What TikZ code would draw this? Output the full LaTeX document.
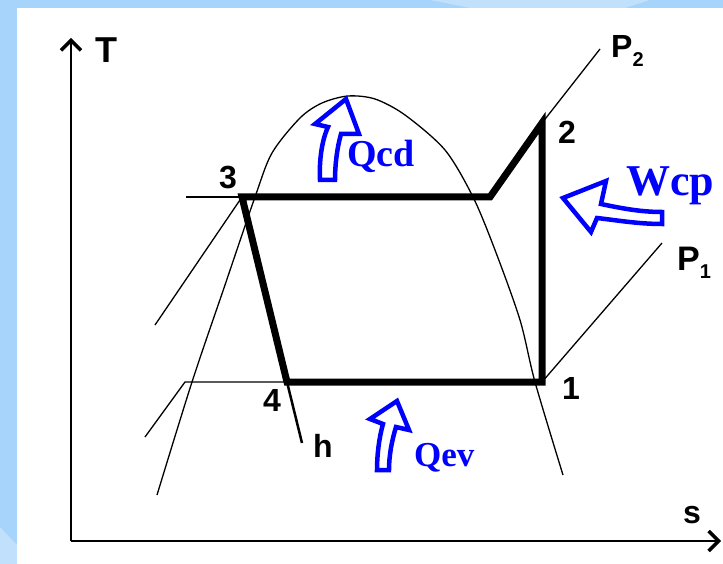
\documentclass[tikz,border=0pt]{standalone}
\usepackage{fontspec}
\setmainfont{Liberation Serif}
\setsansfont{Liberation Sans}
\usetikzlibrary{arrows.meta}
\definecolor{bgblue}{RGB}{166,212,250}
\definecolor{bglight}{RGB}{192,224,252}
\definecolor{qblue}{RGB}{0,0,255}
\begin{document}
\begin{tikzpicture}[x=1pt,y=-1pt,
  isoline/.style={line width=1.3pt},
  isothick/.style={line width=2.5pt},
  cyc/.style={line width=7pt, line join=miter},
  axisline/.style={line width=1.6pt},
  lbl/.style={font=\sffamily\bfseries\fontsize{32}{32}\selectfont, inner sep=0pt},
  qlbl/.style={text=qblue, inner sep=0pt, anchor=base west},
  hollow/.style={draw=qblue, fill=white, line width=4.5pt, line join=miter, miter limit=4},
]
% background
\fill[bgblue] (0,0) rectangle (723,564);
\useasboundingbox (0,0) rectangle (723,564);
\fill[bglight] (430,0) -- (650,0) -- (625,8) -- (470,8) -- cycle;
\fill[bglight] (0,527) -- (17,545) -- (17,564) -- (0,564) -- cycle;
\fill[white] (17,8) rectangle (723,564);

% axes
\coordinate (O) at (71,541);
\coordinate (Ttop) at (71,38);
\coordinate (Sright) at (721,541);
\draw[axisline, -{Straight Barb[length=10pt,width=20pt,line width=3.5pt]}] (O) -- (Ttop);
\draw[axisline, -{Straight Barb[length=10pt,width=20pt,line width=3.5pt]}] (O) -- (Sright);

% saturation dome
\draw[isoline] plot[smooth] coordinates {(157,495) (192,382) (225,285) (255,197) (272,153) (300,118) (322,103) (348,96) (375,99) (405,115) (445,150) (473,197) (495,250) (520,320) (535,382) (563,475)};

% cycle points
\coordinate (p1) at (542,382);
\coordinate (p2) at (542,123);
\coordinate (pk) at (490,197);
\coordinate (p3) at (242,197);
\coordinate (p4) at (287,382);
\coordinate (P2end) at (600,49);
\coordinate (P1end) at (662,243);
\coordinate (isoL) at (186,197);
\coordinate (liq2) at (155,325);
\coordinate (isoL1) at (185,382);
\coordinate (liq1) at (145,437);
\coordinate (hend) at (302,443);

% isobars and isolines
\draw[isoline] (p2) -- (P2end);
\draw[isothick] (p3) -- (isoL);
\draw[isoline] (p3) -- (liq2);
\draw[isoline] (p1) -- (P1end);
\draw[isoline] (p4) -- (isoL1) -- (liq1);
\draw[isothick] (p4) -- (hend);

% cycle
\draw[cyc] (p1) -- (p2) -- (pk) -- (p3) -- (p4) -- cycle;

% labels
\node[lbl, font=\sffamily\bfseries\fontsize{36}{36}\selectfont] (tT) at (106,50) {T};
\node[lbl] (ts) at (692,515) {s};
\node[lbl] (t1) at (571,388) {1};
\node[lbl] (t2) at (567,132) {2};
\node[lbl] (t3) at (228,178) {3};
\node[lbl] (t4) at (272,400) {4};
\node[lbl] (th) at (323,446) {h};
\node[lbl, anchor=base west] (tP2) at (611,58) {P\raisebox{-9pt}{\fontsize{20}{20}\selectfont 2}};
\node[lbl, anchor=base west, font=\sffamily\bfseries\fontsize{34}{34}\selectfont] (tP1) at (677,270) {P\raisebox{-9pt}{\fontsize{20}{20}\selectfont 1}};

% heat / work arrows
\draw[hollow] (320,180) .. controls (319,160) and (322,140) .. (328,127) -- (315,124) -- (346,99) -- (359,134) -- (341,134) .. controls (337,148) and (335,165) .. (335,180) -- cycle;
\draw[hollow] (563,198) -- (606,181) -- (601,204) .. controls (620,208) and (640,212) .. (662,212) -- (662,224) .. controls (638,224) and (615,220) .. (597,218) -- (591,232) -- cycle;
\draw[hollow] (397,401) -- (409,430) -- (396,427) .. controls (392,440) and (389,455) .. (389,470) -- (377,470) .. controls (377,455) and (379,438) .. (383,424) -- (370,419) -- cycle;

\node[qlbl] (qcd) at (347,167) {\fontsize{38}{38}\selectfont\bfseries Qcd};
\node[qlbl] (wcp) at (626,196) {\fontsize{44}{44}\selectfont\bfseries Wcp};
\node[qlbl] (qev) at (414,466) {\fontsize{35}{35}\selectfont\bfseries Qev};
\end{tikzpicture}
\end{document}
